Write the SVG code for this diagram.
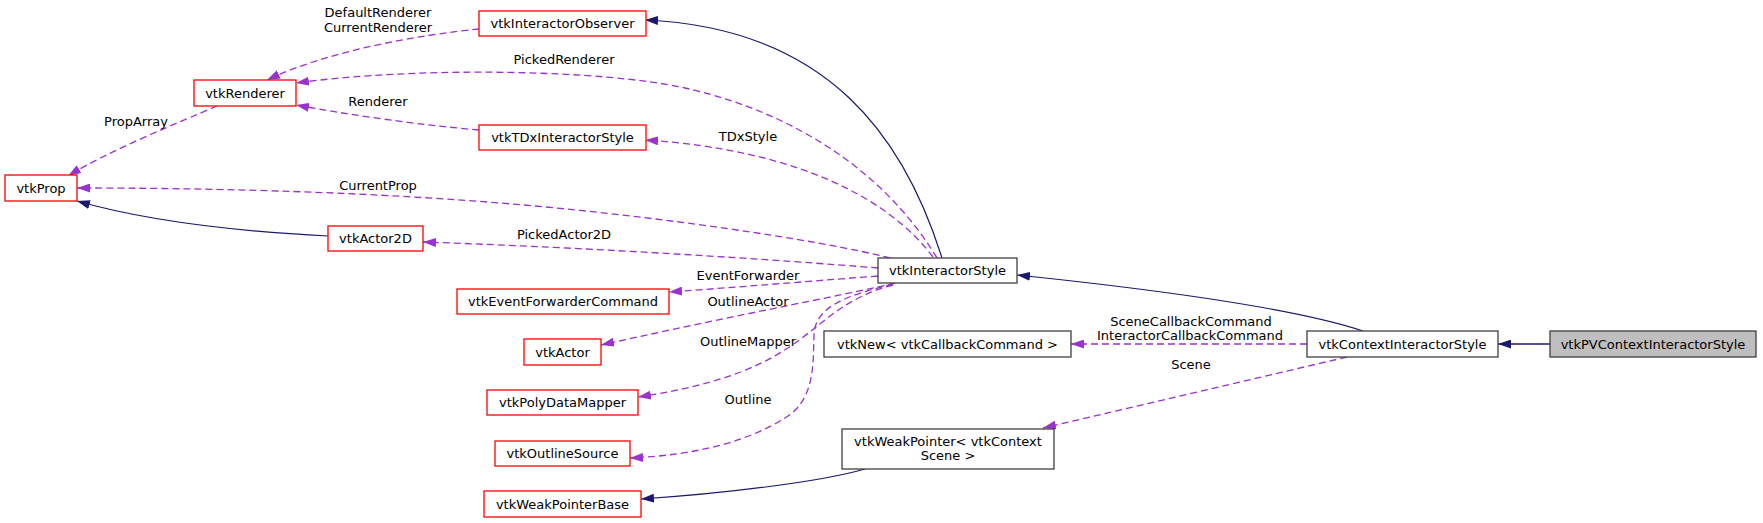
<svg xmlns="http://www.w3.org/2000/svg" width="1763" height="523" viewBox="0 0 1763 523">
<style>
  .node rect { fill: #ffffff; stroke-width: 1.3; }
  .red rect { stroke: #ff0000; }
  .blk rect { stroke: #404040; }
  .main rect { fill: #bfbfbf; }
  text { font-family: "DejaVu Sans", "Liberation Sans", sans-serif; font-size: 13px; fill: #000000; }
  .node text { text-anchor: middle; }
  .lbl { text-anchor: middle; }
  .solid { fill: none; stroke: #191970; stroke-width: 1.2; marker-end: url(#arrNavy); }
  .dash { fill: none; stroke: #9a32cd; stroke-width: 1.3; stroke-dasharray: 7,4; marker-end: url(#arrPurple); }
</style>
<defs>
  <marker id="arrNavy" viewBox="0 0 13 9" markerWidth="13" markerHeight="9" markerUnits="userSpaceOnUse" refX="13" refY="4.5" orient="auto">
    <path d="M0,0 L13,4.5 L0,9 z" fill="#191970" stroke="none"/>
  </marker>
  <marker id="arrPurple" viewBox="0 0 13 9" markerWidth="13" markerHeight="9" markerUnits="userSpaceOnUse" refX="13" refY="4.5" orient="auto">
    <path d="M0,0 L13,4.5 L0,9 z" fill="#9a32cd" stroke="none"/>
  </marker>
</defs>
<rect x="0" y="0" width="1763" height="523" fill="#ffffff"/>

<g id="connectors">
  <path class="solid" d="M942,258 C905,140 830,28 645,20"/>
  <path class="solid" d="M1363,331 C1300,310 1180,292 1017,275"/>
  <path class="solid" style="stroke-width:1.6" d="M1550,344 L1498,344"/>
  <path class="solid" d="M328,236 C250,232 150,222 77,201"/>
  <path class="solid" d="M865,469 C820,482 720,494 641,499"/>

  <path class="dash" d="M479,29 C420,35 330,50 267,80"/>
  <path class="dash" d="M937,258 C890,180 805,115 685,88 C605,70 420,66 296,83"/>
  <path class="dash" d="M479,130 C420,125 350,115 296,105"/>
  <path class="dash" d="M217,106 C180,122 110,150 68,176"/>
  <path class="dash" d="M933,257 C890,200 800,150 645,140"/>
  <path class="dash" d="M890,258 C820,240 650,215 500,203 C350,191 200,188 77,188"/>
  <path class="dash" d="M878,268 C780,260 600,248 423,242"/>
  <path class="dash" d="M878,276 C800,282 740,287 669,292"/>
  <path class="dash" d="M895,283 C860,292 750,312 601,345"/>
  <path class="dash" d="M893,285 C800,310 820,370 638,397"/>
  <path class="dash" d="M893,284 C850,295 815,305 814,335 C813,365 815,400 785,418 C750,440 700,455 630,458"/>
  <path class="dash" d="M1307,344 L1071,344"/>
  <path class="dash" d="M1347,357 L1043,428"/>

  <text class="lbl" x="378" y="16.5">DefaultRenderer</text>
  <text class="lbl" x="378" y="31.5">CurrentRenderer</text>
  <text class="lbl" x="564" y="63.5">PickedRenderer</text>
  <text class="lbl" x="378" y="105.5">Renderer</text>
  <text class="lbl" x="136" y="125.5">PropArray</text>
  <text class="lbl" x="748" y="140.5">TDxStyle</text>
  <text class="lbl" x="378" y="189.5">CurrentProp</text>
  <text class="lbl" x="564" y="238.5">PickedActor2D</text>
  <text class="lbl" x="748" y="279.5">EventForwarder</text>
  <text class="lbl" x="748" y="305.5">OutlineActor</text>
  <text class="lbl" x="748" y="345.5">OutlineMapper</text>
  <text class="lbl" x="748" y="403.5">Outline</text>
  <text class="lbl" x="1191" y="325.5">SceneCallbackCommand</text>
  <text class="lbl" x="1190" y="340">InteractorCallbackCommand</text>
  <text class="lbl" x="1191" y="368.5">Scene</text>
</g>

<g id="vtkInteractorObserver" class="node red"><rect x="479" y="11" width="167" height="25"/><text x="562.5" y="28">vtkInteractorObserver</text></g>
<g id="vtkRenderer" class="node red"><rect x="194" y="80" width="102" height="26"/><text x="245" y="97.5">vtkRenderer</text></g>
<g id="vtkTDxInteractorStyle" class="node red"><rect x="479" y="125" width="167" height="25"/><text x="562.5" y="142">vtkTDxInteractorStyle</text></g>
<g id="vtkProp" class="node red"><rect x="5" y="175" width="72" height="26"/><text x="41" y="192.5">vtkProp</text></g>
<g id="vtkActor2D" class="node red"><rect x="328" y="226" width="95" height="25"/><text x="375.5" y="243">vtkActor2D</text></g>
<g id="vtkEventForwarderCommand" class="node red"><rect x="457" y="289" width="212" height="25"/><text x="563" y="306">vtkEventForwarderCommand</text></g>
<g id="vtkActor" class="node red"><rect x="524" y="339" width="77" height="26"/><text x="562.5" y="356.5">vtkActor</text></g>
<g id="vtkPolyDataMapper" class="node red"><rect x="487" y="390" width="151" height="25"/><text x="562.5" y="407">vtkPolyDataMapper</text></g>
<g id="vtkOutlineSource" class="node red"><rect x="495" y="441" width="135" height="25"/><text x="562.5" y="458">vtkOutlineSource</text></g>
<g id="vtkWeakPointerBase" class="node red"><rect x="484" y="491" width="157" height="26"/><text x="562.5" y="508.5">vtkWeakPointerBase</text></g>
<g id="vtkInteractorStyle" class="node blk"><rect x="878" y="258" width="139" height="25"/><text x="947.5" y="275">vtkInteractorStyle</text></g>
<g id="vtkNewCallbackCommand" class="node blk"><rect x="824" y="331" width="247" height="26"/><text x="947.5" y="348.5">vtkNew&lt; vtkCallbackCommand &gt;</text></g>
<g id="vtkWeakPointerContextScene" class="node blk"><rect x="842" y="429" width="212" height="40"/><text x="948" y="445.5">vtkWeakPointer&lt; vtkContext</text><text x="948" y="460">Scene &gt;</text></g>
<g id="vtkContextInteractorStyle" class="node blk"><rect x="1307" y="331" width="191" height="26"/><text x="1402.5" y="348.5">vtkContextInteractorStyle</text></g>
<g id="vtkPVContextInteractorStyle" class="node blk main"><rect x="1550" y="331" width="206" height="26"/><text x="1653" y="348.5">vtkPVContextInteractorStyle</text></g>
</svg>
